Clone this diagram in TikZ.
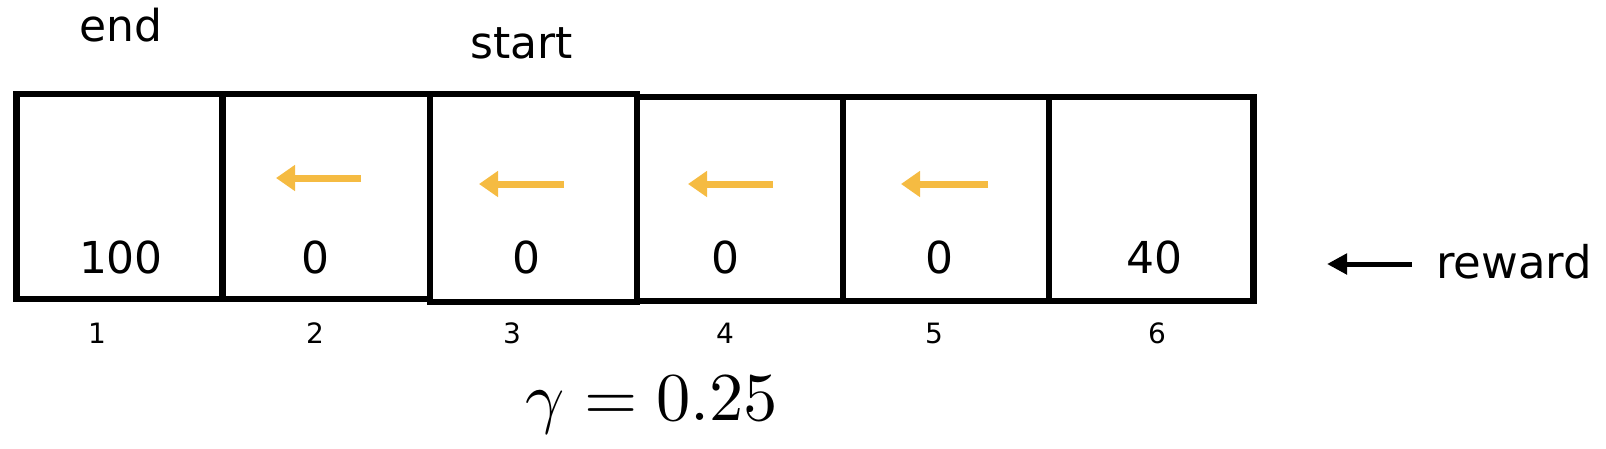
\documentclass[tikz,border=0pt]{standalone}
\usepackage{graphicx}
\usepackage{fontspec}
\setmainfont{DejaVu Sans}
\usetikzlibrary{arrows.meta}
\definecolor{arr}{RGB}{245,187,66}
\begin{document}
\begin{tikzpicture}[x=1pt,y=-1pt,
  cell/.style={draw,line width=6.5pt,inner sep=0pt,outer sep=0pt},
  lab/.style={font=\fontsize{44}{50}\selectfont,anchor=base,inner sep=0pt},
  idx/.style={font=\fontsize{28}{32}\selectfont,anchor=base,inner sep=0pt},
  act/.style={draw=arr,line width=7pt,-{Triangle[length=19pt,width=25pt]}},
  rew/.style={draw=black,line width=5pt,-{Triangle[length=20pt,width=20pt]}},
]
\useasboundingbox (0,0) rectangle (1606,448);
% cells
\node[cell,minimum width=205.9pt,minimum height=205pt] (c1) at (119.35,196.5) {};
\node[cell,minimum width=207.9pt,minimum height=205pt] (c2) at (326.25,196.5) {};
\node[cell,minimum width=206.9pt,minimum height=208pt] (c3) at (533.65,198) {};
\node[cell,minimum width=205.8pt,minimum height=204pt] (c4) at (740,199) {};
\node[cell,minimum width=205.9pt,minimum height=204pt] (c5) at (945.85,199) {};
\node[cell,minimum width=204.8pt,minimum height=204pt] (c6) at (1151.2,199) {};
% top labels
\node[lab] (tend) at (121,41) {end};
\node[lab] (tstart) at (522,58) {start};
% rewards
\node[lab] (r1) at (121,273) {100};
\node[lab] (r2) at (315,273) {0};
\node[lab] (r3) at (526,273) {0};
\node[lab] (r4) at (725,273) {0};
\node[lab] (r5) at (939,273) {0};
\node[lab] (r6) at (1154,273) {40};
% indices
\node[idx] (i1) at (97,343) {1};
\node[idx] (i2) at (315,343) {2};
\node[idx] (i3) at (512,343) {3};
\node[idx] (i4) at (725,343) {4};
\node[idx] (i5) at (934,343) {5};
\node[idx] (i6) at (1157,343) {6};
% actions
\coordinate (a2s) at (361,178); \coordinate (a2e) at (276,178);
\coordinate (a3s) at (564,184); \coordinate (a3e) at (479,184);
\coordinate (a4s) at (773,184); \coordinate (a4e) at (688,184);
\coordinate (a5s) at (988,184); \coordinate (a5e) at (901,184);
\draw[act] (a2s) -- (a2e);
\draw[act] (a3s) -- (a3e);
\draw[act] (a4s) -- (a4e);
\draw[act] (a5s) -- (a5e);
% reward legend
\node[lab,anchor=base west,font=\fontsize{45}{50}\selectfont] (rw) at (1436,278) {reward};
\coordinate (rws) at (1412,264); \coordinate (rwe) at (1327,264);
\draw[rew] (rws) -- (rwe);
% gamma
\node[anchor=base,inner sep=0pt] (g) at (652,420) {\scalebox{6.85}{$\gamma = 0.25$}};
\end{tikzpicture}
\end{document}
